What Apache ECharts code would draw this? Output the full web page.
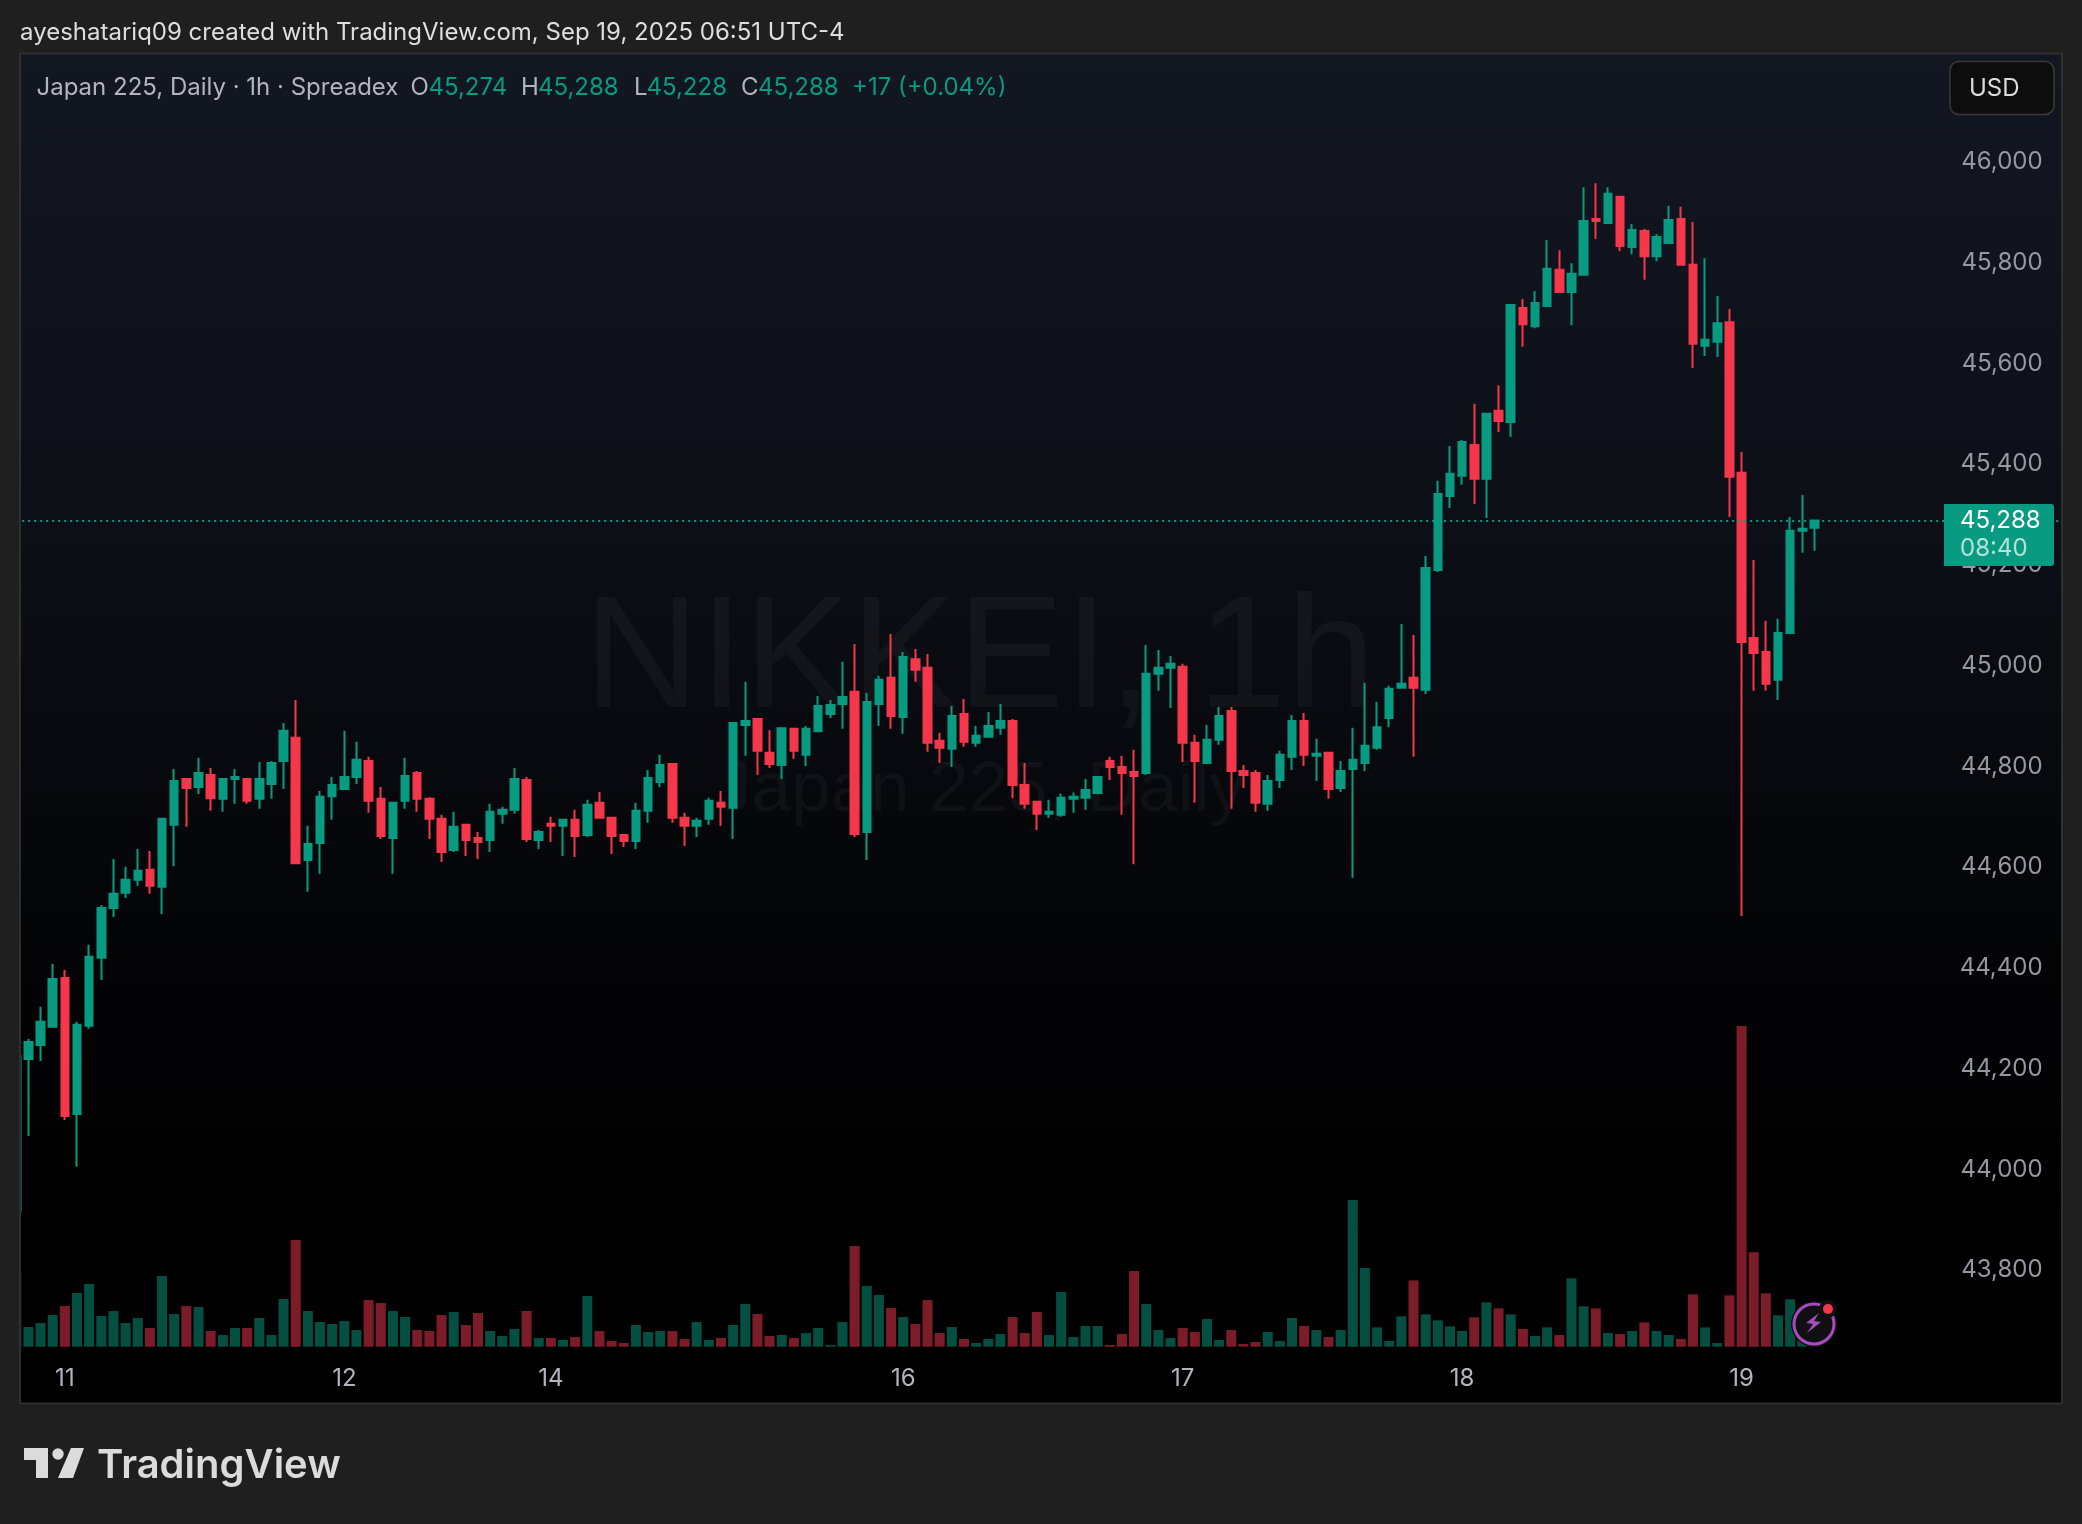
<!DOCTYPE html>
<html>
<head>
<meta charset="utf-8">
<title>Japan 225, 1h</title>
<script src="https://cdn.jsdelivr.net/npm/echarts@6/dist/echarts.min.js"></script>
<style>html,body{margin:0;padding:0;background:#1f1f1f}#c{width:2082px;height:1524px}</style>
</head>
<body>
<div id="c"></div>
<script>
// The first entry of each series is the candle cut off by the pane's left edge.
const opens = [43916,
44219,44247,44283,44380,44110,44285,44420,44519,44549,44575,
44595,44561,44684,44775,44759,44783,44736,44775,44775,44736,
44765,44811,44857,44614,44648,44741,44755,44779,44811,44736,
44658,44732,44787,44736,44696,44634,44684,44658,44654,44706,
44714,44773,44654,44686,44682,44694,44664,44728,44698,44664,
44652,44712,44769,44805,44698,44682,44696,44728,44718,44882,
44894,44827,44803,44875,44823,44870,44904,44924,44948,44670,
44924,44976,44898,45013,44996,44851,44835,44904,44847,44859,
44877,44890,44763,44730,44706,44704,44736,44738,44747,44811,
44799,44789,44787,44984,44996,44998,44847,44807,44853,44910,
44791,44787,44726,44773,44819,44890,44821,44827,44757,44795,
44807,44837,44896,44956,44976,44952,45190,45337,45377,45438,
45371,45506,45484,45710,45674,45714,45786,45742,45776,45887,
45879,45931,45831,45863,45813,45839,45887,45796,45635,45643,
45682,45383,45055,45027,44972,45065,45268,45274];
const closes = [44225,
44253,44293,44378,44106,44287,44422,44519,44547,44575,44593,
44563,44696,44771,44757,44787,44737,44775,44779,44732,44775,
44807,44871,44608,44646,44740,44763,44779,44813,44732,44662,
44728,44781,44736,44696,44630,44680,44654,44650,44710,44714,
44775,44656,44670,44682,44694,44662,44724,44698,44662,44652,
44712,44777,44803,44698,44682,44692,44732,44720,44886,44890,
44831,44805,44876,44831,44875,44920,44922,44938,44666,44928,
44972,44900,45017,44992,44847,44837,44900,44849,44861,44880,
44890,44763,44726,44706,44710,44738,44740,44753,44779,44799,
44787,44781,44984,44996,45004,44847,44811,44853,44900,44791,
44783,44728,44771,44823,44890,44823,44825,44755,44791,44813,
44841,44878,44954,44964,44956,45194,45341,45381,45444,45371,
45500,45486,45716,45678,45720,45788,45742,45778,45883,45883,
45937,45833,45865,45813,45851,45885,45796,45639,45647,45680,
45375,45047,45025,44964,45065,45268,45272,45288];
const highs = [44225,
44259,44323,44408,44396,44293,44446,44525,44616,44601,44636,
44632,44696,44795,44775,44817,44797,44777,44795,44775,44809,
44811,44886,44932,44682,44751,44779,44871,44849,44819,44759,
44728,44817,44791,44739,44704,44710,44684,44670,44726,44720,
44797,44779,44674,44700,44694,44714,44734,44749,44700,44664,
44728,44793,44823,44805,44708,44698,44738,44751,44886,44968,
44894,44872,44876,44876,44880,44940,44932,45008,45043,44946,
44980,45063,45027,45033,45023,44867,44920,44934,44880,44908,
44924,44894,44807,44730,44734,44746,44748,44775,44779,44819,
44821,44833,45041,45031,45019,45004,44863,44882,44918,44918,
44803,44793,44783,44831,44902,44906,44855,44827,44811,44877,
44966,44928,44960,45083,45061,45218,45367,45436,45448,45520,
45500,45557,45718,45728,45744,45845,45825,45799,45950,45958,
45950,45933,45877,45867,45857,45913,45911,45881,45809,45734,
45708,45424,45210,45089,45093,45295,45339,45288];
const lows = [43916,
44066,44215,44283,44098,44005,44279,44376,44501,44539,44563,
44547,44507,44602,44680,44745,44712,44710,44726,44726,44716,
44736,44755,44606,44551,44587,44694,44753,44765,44708,44656,
44587,44716,44710,44656,44610,44630,44622,44616,44630,44686,
44706,44650,44636,44650,44622,44620,44660,44698,44626,44640,
44636,44688,44759,44688,44642,44660,44684,44682,44656,44821,
44783,44797,44775,44815,44801,44870,44896,44875,44660,44614,
44880,44875,44865,44968,44829,44807,44799,44839,44839,44859,
44863,44737,44716,44674,44698,44700,44708,44714,44745,44773,
44704,44606,44783,44950,44916,44809,44728,44805,44843,44716,
44757,44710,44712,44757,44793,44801,44771,44736,44749,44579,
44791,44833,44878,44956,44819,44944,45186,45313,45359,45321,
45293,45464,45454,45633,45670,45714,45742,45676,45776,45847,
45879,45823,45817,45766,45803,45839,45796,45591,45615,45613,
45295,44503,44950,44950,44932,45065,45224,45228];
const volumes = [230,
59,71,95,122,161,188,92,107,71,86,
56,212,98,122,119,47,35,56,56,86,
35,143,320,107,74,68,77,50,140,131,
107,89,50,47,95,104,65,101,47,32,
53,107,26,26,20,29,152,47,17,11,
65,44,47,47,23,74,20,26,65,128,
98,32,35,26,41,56,5,74,302,182,
155,116,89,68,140,41,59,23,11,23,
38,89,41,104,35,164,29,62,62,5,
38,227,128,50,26,56,44,83,20,50,
8,14,44,17,86,62,50,29,50,440,
236,58,17,91,199,97,79,61,47,88,
133,115,97,53,32,58,35,205,121,115,
41,38,47,73,47,35,23,157,58,11,
154,962,283,160,94,142,90,20];
const dayTickIndex = [4,27,44,73,96,119,142];
const dayTickLabels = ['11','12','14','16','17','18','19'];
const slotCount = 169;
const lastPrice = 45288;
const priceMin = 43800, priceMax = 46000, priceStep = 200;
const volumeAxisMax = 972;

const UP = '#089b82', DOWN = '#f5374b', UP_VOL = '#054f42', DOWN_VOL = '#7c1c29';
const FONT = 'Inter, "Noto Sans", sans-serif';

const categories = [];
for (let k = 0; k < slotCount; k++) {
  const at = dayTickIndex.indexOf(k);
  categories.push(at >= 0 ? dayTickLabels[at] : '');
}
const candles = opens.map((o, k) => [o, closes[k], lows[k], highs[k]]);

const GRID_LEFT = 10.2, GRID_WIDTH = 2053.35;

const legendParts = [
  ['Japan 225, Daily · 1h · Spreadex', 36.5, '#b2b5be'],
  ['O', 410.5, '#b2b5be'], ['45,274', 428.5, UP],
  ['H', 521, '#b2b5be'], ['45,288', 538, UP],
  ['L', 634, '#b2b5be'], ['45,228', 646.5, UP],
  ['C', 741, '#b2b5be'], ['45,288', 758, UP],
  ['+17 (+0.04%)', 852, UP]
];

const graphics = [
  { type: 'rect', z: -10, silent: true, shape: { x: 20, y: 53, width: 2042, height: 1350 },
    style: { fill: new echarts.graphic.LinearGradient(0, 0, 0, 1, [
      { offset: 0, color: '#131722' }, { offset: 0.35, color: '#0c0f16' },
      { offset: 0.7, color: '#030305' }, { offset: 0.88, color: '#000000' }, { offset: 1, color: '#000000' }
    ]) } },
  { type: 'text', z: 0, silent: true, x: 584, y: 663, style: { text: 'NIKKEI, 1h', font: '160px "Liberation Sans", sans-serif', fill: 'rgba(255,255,255,0.04)', verticalAlign: 'middle' } },
  { type: 'text', z: 0, silent: true, x: 716, y: 791, style: { text: 'Japan 225, Daily', font: '71px "Liberation Sans", sans-serif', fill: 'rgba(255,255,255,0.04)', verticalAlign: 'middle' } },
  { type: 'rect', z: 50, silent: true, shape: { x: 0, y: 40, width: 20, height: 1380 }, style: { fill: '#1f1f1f' } },
  { type: 'rect', z: 50, silent: true, shape: { x: 2062, y: 40, width: 20, height: 1380 }, style: { fill: '#1f1f1f' } },
  { type: 'rect', z: 60, silent: true, shape: { x: 20, y: 53.5, width: 2042, height: 1350 }, style: { fill: 'none', stroke: '#2f2f2f', lineWidth: 2 } },
  { type: 'text', z: 60, silent: true, x: 20, y: 33, style: { text: 'ayeshatariq09 created with TradingView.com, Sep 19, 2025 06:51 UTC-4', font: '24px ' + FONT, fill: '#dedede', verticalAlign: 'middle' } },
  { type: 'rect', z: 60, silent: true, shape: { x: 1950, y: 61.5, width: 104, height: 53, r: 9 }, style: { fill: '#0d0d0d', stroke: '#3a3a3a', lineWidth: 1.5 } },
  { type: 'text', z: 61, silent: true, x: 1969, y: 89, style: { text: 'USD', font: '24px ' + FONT, fill: '#dbdbdb', verticalAlign: 'middle' } },
  { type: 'rect', z: 60, silent: true, shape: { x: 1944, y: 504, width: 110, height: 62, r: [0, 3, 3, 0] }, style: { fill: UP } },
  { type: 'text', z: 61, silent: true, x: 1960, y: 521, style: { text: '45,288', font: '24px ' + FONT, fill: '#ffffff', verticalAlign: 'middle' } },
  { type: 'text', z: 61, silent: true, x: 1960, y: 549, style: { text: '08:40', font: '24px ' + FONT, fill: 'rgba(255,255,255,0.7)', verticalAlign: 'middle' } },
  // pulse icon
  { type: 'circle', z: 60, silent: true, shape: { cx: 1814, cy: 1324, r: 23 }, style: { fill: '#101012' } },
  { type: 'circle', z: 61, silent: true, shape: { cx: 1814, cy: 1324, r: 20 }, style: { fill: 'none', stroke: '#a64cc0', lineWidth: 3 } },
  { type: 'polygon', z: 62, silent: true, shape: { points: [[1819, 1313], [1806, 1323], [1813, 1324], [1807, 1333], [1821, 1322], [1814, 1321]] }, style: { fill: '#a64cc0' } },
  { type: 'circle', z: 62, silent: true, shape: { cx: 1828, cy: 1309, r: 9 }, style: { fill: '#101012' } },
  { type: 'circle', z: 63, silent: true, shape: { cx: 1828, cy: 1309, r: 5 }, style: { fill: '#f5374b' } },
  // logo
  { type: 'polygon', z: 60, silent: true, shape: { points: [[24, 1448], [48, 1448], [48, 1478], [36, 1478], [36, 1460], [24, 1460]] }, style: { fill: '#dbdbdb' } },
  { type: 'circle', z: 60, silent: true, shape: { cx: 58, cy: 1454, r: 5.7 }, style: { fill: '#dbdbdb' } },
  { type: 'polygon', z: 60, silent: true, shape: { points: [[71, 1448], [84, 1448], [73, 1478], [58, 1478]] }, style: { fill: '#dbdbdb' } },
  { type: 'text', z: 60, silent: true, x: 97, y: 1466, style: { text: 'TradingView', font: '600 40px Inter, Lato, sans-serif', fill: '#dbdbdb', verticalAlign: 'middle' } }
];
legendParts.forEach(p => graphics.push({ type: 'text', z: 60, silent: true, x: p[1], y: 87.5,
  style: { text: p[0], font: '24px ' + FONT, fill: p[2], verticalAlign: 'middle' } }));

const chart = echarts.init(document.getElementById('c'), null, { renderer: 'canvas' });
chart.setOption({
  animation: false,
  backgroundColor: '#1f1f1f',
  graphic: { elements: graphics },
  grid: [
    { left: GRID_LEFT, width: GRID_WIDTH, top: 162, height: 1108.1 },
    { left: GRID_LEFT, width: GRID_WIDTH, top: 1022.7, height: 324 }
  ],
  xAxis: [
    { type: 'category', gridIndex: 0, data: categories, boundaryGap: true, show: false },
    { type: 'category', gridIndex: 1, data: categories, boundaryGap: true,
      axisLine: { show: false }, axisTick: { show: false }, splitLine: { show: false },
      axisLabel: { show: true, interval: (i, v) => v !== '', color: '#b2b5be', fontFamily: FONT, fontSize: 24, margin: 20 } }
  ],
  yAxis: [
    { type: 'value', gridIndex: 0, position: 'right', min: priceMin, max: priceMax, interval: priceStep,
      axisLine: { show: false }, axisTick: { show: false }, splitLine: { show: false },
      axisLabel: { inside: true, margin: 21, color: '#9598a1', fontFamily: FONT, fontSize: 24,
        formatter: v => v.toLocaleString('en-US') } },
    { type: 'value', gridIndex: 1, min: 0, max: volumeAxisMax, show: false, splitLine: { show: false } }
  ],
  series: [
    { type: 'bar', name: 'Volume', xAxisIndex: 1, yAxisIndex: 1, data: volumes, barWidth: 10, z: 2,
      itemStyle: { color: p => closes[p.dataIndex] >= opens[p.dataIndex] ? UP_VOL : DOWN_VOL } },
    { type: 'candlestick', name: 'Japan 225', xAxisIndex: 0, yAxisIndex: 0, data: candles, barWidth: 8, z: 3, clip: true,
      itemStyle: { color: UP, color0: DOWN, borderColor: UP, borderColor0: DOWN, borderWidth: 2 },
      markLine: { silent: true, symbol: 'none', label: { show: false }, animation: false,
        lineStyle: { color: UP, type: [2, 4], width: 2 }, data: [{ yAxis: lastPrice }] } }
  ]
});
</script>
</body>
</html>
